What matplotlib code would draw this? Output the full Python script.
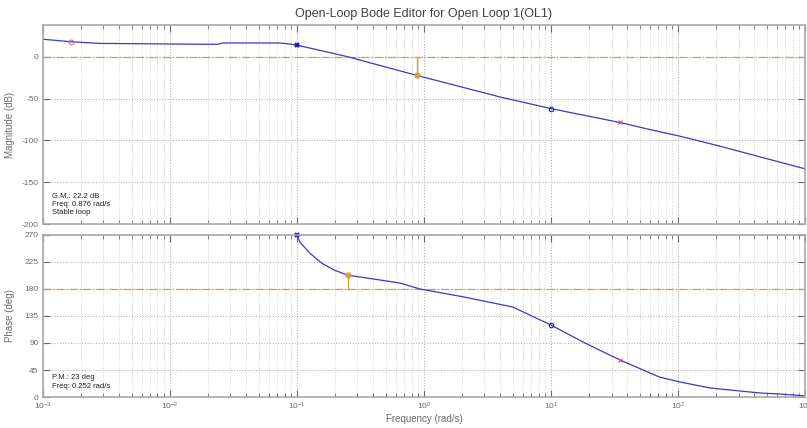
import matplotlib
matplotlib.use("Agg")
import matplotlib.pyplot as plt
from matplotlib.ticker import LogLocator, NullFormatter

plt.rcParams["font.family"] = ["Liberation Sans", "DejaVu Sans"]
plt.rcParams["axes.unicode_minus"] = False
plt.rcParams["mathtext.fontset"] = "custom"
plt.rcParams["mathtext.rm"] = "Liberation Sans"

# magnitude curve (rad/s, dB)
mag_freq = [1e-3, 1.66e-3, 2.8e-3, 7e-3, 0.017, 0.024, 0.026, 0.073, 0.085,
            0.1, 0.252, 0.876, 3.96, 10, 35, 60, 104, 215, 1000]
mag_db = [21, 18, 16, 15.5, 15, 15, 16.5, 16.5, 15.5,
          14, 0, -22.2, -48, -62, -78.6, -87, -95, -107, -134]

# phase curve (rad/s, deg)
ph_freq = [0.1, 0.106, 0.126, 0.157, 0.199, 0.252, 0.647, 0.93, 2.03,
           5.0, 10, 18.5, 35, 72, 104, 179, 443, 635, 1000]
ph_deg = [270, 258, 240, 223, 211, 203, 190, 180, 167,
          150, 120, 90, 61.7, 33, 25, 15, 6.7, 5, 2]

# margins
gm_freq, gm_db = 0.876, -22.2
pm_freq, pm_deg = 0.252, 203

# editor markers: (freq, mag, phase)
pole_x = (0.1, 14, 270)
zero_o = (10, -62, 120)
pink_o = (1.66e-3, 18)
pink_x = (35, -78.6, 61.7)

mag_ticks = [0, -50, -100, -150, -200]
ph_ticks = [0, 45, 90, 135, 180, 225, 270]

line_c = "#3a3ac0"
margin_c = "#d4a040"
grey = "#6a6a6a"
spine_c = "#a8a8a8"

fig = plt.figure(figsize=(8.07, 4.28), dpi=100)
ax1 = fig.add_axes([0.053, 0.4766, 0.9445, 0.465])
ax2 = fig.add_axes([0.053, 0.0724, 0.9445, 0.3786])


def style(ax):
  ax.set_xscale("log")
  ax.set_xlim(1e-3, 1e3)
  ax.xaxis.set_major_locator(LogLocator(base=10, numticks=10))
  ax.xaxis.set_minor_locator(LogLocator(base=10, subs=range(2, 10), numticks=100))
  ax.grid(True, which="major", linestyle=":", color="#b0b0b0", linewidth=0.75)
  ax.grid(True, which="minor", axis="x", linestyle=":", color="#c8c8c8", linewidth=0.6)
  ax.tick_params(which="both", direction="in", top=True, right=True,
                 colors=grey, labelsize=6, labelcolor=grey, pad=3)
  ax.tick_params(which="major", length=5)
  ax.tick_params(which="minor", length=3)
  for s in ax.spines.values():
    s.set_color(spine_c)
    s.set_linewidth(1.2)


style(ax1)
style(ax2)

# magnitude plot
ax1.axhline(0, color=margin_c, linestyle="-.", linewidth=0.9)
ax1.plot(mag_freq, mag_db, color=line_c, linewidth=0.9)
ax1.plot([gm_freq, gm_freq], [0, gm_db], color=margin_c, linewidth=1.0)
ax1.plot(gm_freq, gm_db, "o", color=margin_c, markersize=3.5)
ax1.plot(pole_x[0], pole_x[1], "x", color="#2020d0", markersize=3, mew=1.6)
ax1.plot(zero_o[0], zero_o[1], "o", mfc="none", mec="#2020d0", markersize=3.2, mew=0.8)
ax1.plot(pink_o[0], pink_o[1], "o", mfc="none", mec="#d070a0", markersize=3.5, mew=0.8)
ax1.plot(pink_x[0], pink_x[1], "x", color="#d05080", markersize=3.2, mew=0.8)
ax1.set_ylim(-200, 38)
ax1.set_yticks(mag_ticks)
ax1.xaxis.set_major_formatter(NullFormatter())
ax1.set_ylabel("Magnitude (dB)", fontsize=7, color=grey)
ax1.yaxis.set_label_coords(-0.036, 0.5)
ax1.text(0.0125, 0.04, "G.M.: 22.2 dB\nFreq: 0.876 rad/s\nStable loop",
         transform=ax1.transAxes, fontsize=5.5, color="#202020",
         va="bottom", ha="left", linespacing=1.25)
ax1.set_title("Open-Loop Bode Editor for Open Loop 1(OL1)", fontsize=9,
              color="#404040", pad=6)

# phase plot
ax2.axhline(180, color=margin_c, linestyle="-.", linewidth=0.9)
ax2.plot(ph_freq, ph_deg, color=line_c, linewidth=0.9)
ax2.plot([pm_freq, pm_freq], [180, pm_deg], color=margin_c, linewidth=1.0)
ax2.plot(pm_freq, pm_deg, "o", color=margin_c, markersize=3.5)
ax2.plot(pole_x[0], pole_x[2], "x", color="#2020d0", markersize=3, mew=1.6, clip_on=False)
ax2.plot(zero_o[0], zero_o[2], "o", mfc="none", mec="#2020d0", markersize=3.2, mew=0.8)
ax2.plot(pink_x[0], pink_x[2], "x", color="#d05080", markersize=3.2, mew=0.8)
ax2.set_ylim(0, 270)
ax2.set_yticks(ph_ticks)
ax2.set_ylabel("Phase (deg)", fontsize=7, color=grey)
ax2.yaxis.set_label_coords(-0.036, 0.5)
ax2.set_xlabel("Frequency (rad/s)", fontsize=7, color=grey)
ax2.xaxis.set_label_coords(0.5, -0.105)
ax2.text(0.0125, 0.045, "P.M.: 23 deg\nFreq: 0.252 rad/s",
         transform=ax2.transAxes, fontsize=5.5, color="#202020",
         va="bottom", ha="left", linespacing=1.25)

fig.savefig("out.png", dpi=100)
